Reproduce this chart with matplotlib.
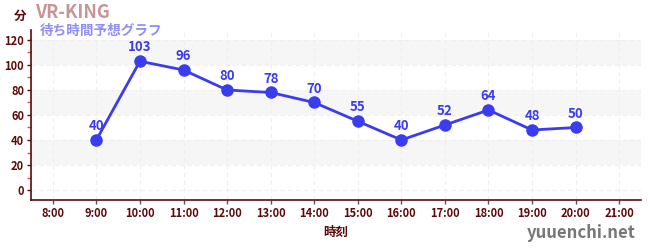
import matplotlib
matplotlib.use("Agg")
import matplotlib.pyplot as plt

plt.rcParams['font.family'] = ['Noto Sans CJK JP', 'DejaVu Sans']

hours = [9, 10, 11, 12, 13, 14, 15, 16, 17, 18, 19, 20]
waits = [40, 103, 96, 80, 78, 70, 55, 40, 52, 64, 48, 50]
tick_hours = list(range(8, 22))
tick_labels = [f"{h}:00" for h in tick_hours]
y_ticks = [0, 20, 40, 60, 80, 100, 120]

axis_col = '#5c0a0a'
line_col = '#3b3bf0'

fig = plt.figure(figsize=(6.5, 2.5), dpi=100)
ax = fig.add_axes([31/650, 50/250, 610/650, 170/250])

ax.set_xlim(7.5, 21.5)
ax.set_ylim(-8, 128)

# gray bands
for lo in [20, 60, 100]:
    ax.axhspan(lo, lo + 20, color='#f6f6f6', zorder=0, lw=0)

ax.set_xticks(tick_hours)
ax.set_xticklabels(tick_labels)
ax.set_yticks(y_ticks)
ax.set_yticks([10, 30, 50, 70, 90, 110], minor=True)
ax.grid(True, which='major', color='#efefef', ls=(0, (4, 3)), lw=0.8, zorder=0)

for s in ['top', 'right']:
    ax.spines[s].set_visible(False)
for s in ['left', 'bottom']:
    ax.spines[s].set_color(axis_col)
    ax.spines[s].set_linewidth(1.2)

ax.tick_params(axis='both', which='major', colors=axis_col, labelsize=8, length=3, width=1, pad=2)
ax.tick_params(axis='x', which='major', color='#555555')
ax.tick_params(axis='y', which='minor', color='#e05050', length=3, width=1)
for lab in ax.get_xticklabels() + ax.get_yticklabels():
    lab.set_fontweight('bold')

ax.plot(hours, waits, color=line_col, lw=2, marker='o', ms=8, zorder=3)
for h, w in zip(hours, waits):
    ax.annotate(str(w), (h, w), xytext=(0, 5), textcoords='offset points',
                ha='center', va='bottom', color=line_col, fontsize=9.5,
                fontweight='bold', zorder=4)

ax.set_xlabel('時刻', color=axis_col, fontsize=9, fontweight='bold', labelpad=4)

fig.text(20/650, 1 - 16/250, '分', color=axis_col, fontsize=9, fontweight='bold',
         ha='center', va='center')
fig.text(35/650, 1 - 12/250, 'VR-KING', color='#c89595', fontsize=13,
         fontweight='bold', ha='left', va='center')
fig.text(40/650, 1 - 31/250, '待ち時間予想グラフ', color='#8f8ff5', fontsize=9.8,
         fontweight='bold', ha='left', va='center')
fig.text(636/650, 1 - 233/250, 'yuuenchi.net', color='#777777', fontsize=12,
         fontweight='bold', ha='right', va='center')

fig.savefig('out.png', dpi=100)
